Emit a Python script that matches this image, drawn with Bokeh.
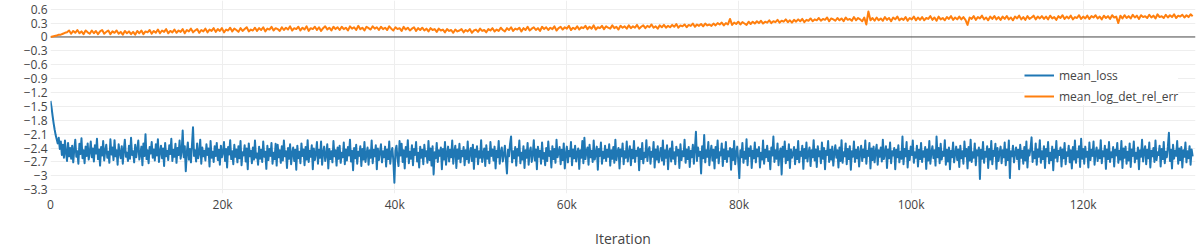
from bokeh.plotting import figure
from bokeh.models import Range1d, FixedTicker, Span, Legend, LegendItem
from bokeh.embed import file_html
from bokeh.resources import INLINE

# ---------------- data ----------------
loss_log_step = 120   # iterations between logged mean_loss points
err_log_step = 240    # iterations between logged mean_log_det_rel_err points

mean_loss = [
    -1.38, -1.52, -1.70, -1.86, -2.00, -2.12, -2.21, -2.30, -2.18, -2.42, -2.26, -2.55, -2.33, -2.61, -2.24, -2.50, -2.68, -2.29, -2.58, -2.40,
    -2.63, -2.35, -2.71, -2.44, -2.22, -2.59, -2.47, -2.74, -2.31, -2.53, -2.19, -2.62, -2.45, -2.73, -2.37, -2.57, -2.30, -2.65, -2.49, -2.26,
    -2.60, -2.41, -2.69, -2.34, -2.52, -2.20, -2.64, -2.43, -2.78, -2.38, -2.56, -2.25, -2.67, -2.46, -2.33, -2.61, -2.48, -2.72, -2.21, -2.54,
    -2.39, -2.66, -2.23, -2.58, -2.45, -2.76, -2.32, -2.51, -2.62, -2.36, -2.74, -2.44, -2.22, -2.59, -2.50, -2.68, -2.35, -2.63, -2.18, -2.55,
    -2.47, -2.71, -2.33, -2.60, -2.42, -2.24, -2.65, -2.53, -2.37, -2.77, -2.30, -2.57, -2.10, -2.64, -2.45, -2.73, -2.38, -2.52, -2.27, -2.61,
    -2.43, -2.67, -2.32, -2.56, -2.21, -2.70, -2.48, -2.35, -2.62, -2.41, -2.79, -2.29, -2.58, -2.46, -2.66, -2.34, -2.53, -2.20, -2.68, -2.44,
    -2.59, -2.31, -2.72, -2.40, -2.55, -2.24, -2.63, -2.47, -2.02, -2.60, -2.36, -2.90, -2.49, -2.28, -2.65, -2.42, -2.71, -2.33, -1.95, -2.57,
    -2.45, -2.69, -2.30, -2.62, -2.51, -2.22, -2.74, -2.39, -2.58, -2.46, -2.67, -2.32, -2.55, -2.41, -2.80, -2.25, -2.61, -2.48, -2.70, -2.36,
    -2.57, -2.29, -2.66, -2.44, -2.76, -2.35, -2.60, -2.50, -2.27, -2.68, -2.42, -2.82, -2.38, -2.54, -2.23, -2.64, -2.47, -2.75, -2.33, -2.59,
    -2.43, -2.71, -2.36, -2.62, -2.25, -2.77, -2.49, -2.56, -2.34, -2.69, -2.41, -2.86, -2.30, -2.58, -2.46, -2.73, -2.39, -2.65, -2.24, -2.61,
    -2.52, -2.76, -2.37, -2.63, -2.44, -2.70, -2.26, -2.59, -2.48, -2.85, -2.35, -2.66, -2.42, -2.57, -2.29, -2.74, -2.50, -2.64, -2.31, -2.78,
    -2.33, -2.60, -2.45, -2.72, -2.36, -2.67, -2.24, -2.58, -2.47, -2.83, -2.40, -2.63, -2.32, -2.75, -2.51, -2.39, -2.68, -2.44, -2.87, -2.35,
    -2.62, -2.48, -2.73, -2.30, -2.57, -2.43, -2.77, -2.38, -2.65, -2.23, -2.70, -2.46, -2.59, -2.34, -2.86, -2.41, -2.66, -2.52, -2.27, -2.74,
    -2.44, -2.61, -2.26, -2.76, -2.49, -2.37, -2.68, -2.55, -2.32, -2.84, -2.42, -2.64, -2.47, -2.71, -2.25, -2.58, -2.45, -2.78, -2.39, -2.63,
    -2.35, -2.72, -2.50, -2.60, -2.28, -2.75, -2.43, -2.67, -2.38, -2.56, -2.22, -2.69, -2.46, -2.88, -2.40, -2.62, -2.33, -2.74, -2.48, -2.57,
    -2.36, -2.79, -2.42, -2.65, -2.27, -2.70, -2.53, -2.39, -2.76, -2.45, -2.61, -2.24, -2.73, -2.44, -2.58, -2.34, -2.86, -2.41, -2.66, -2.49,
    -2.32, -2.71, -2.47, -2.60, -2.37, -2.80, -2.43, -2.64, -2.26, -2.74, -2.51, -2.40, -2.68, -3.15, -2.46, -2.35, -2.62, -2.79, -2.25, -2.56,
    -2.31, -2.70, -2.45, -2.84, -2.38, -2.59, -2.23, -2.73, -2.48, -2.63, -2.34, -2.77, -2.42, -2.55, -2.27, -2.69, -2.50, -2.82, -2.37, -2.61,
    -2.44, -2.75, -2.33, -2.58, -2.47, -2.72, -2.25, -2.66, -2.41, -2.78, -2.36, -2.97, -2.49, -2.62, -2.29, -2.70, -2.45, -2.57, -2.39, -2.86,
    -2.42, -2.65, -2.27, -2.76, -2.51, -2.37, -2.69, -2.44, -2.60, -2.24, -2.74, -2.48, -2.35, -2.83, -2.43, -2.63, -2.31, -2.71, -2.46, -2.58,
    -2.38, -2.77, -2.45, -2.64, -2.26, -2.72, -2.50, -2.40, -2.68, -2.33, -2.85, -2.44, -2.59, -2.36, -2.75, -2.47, -2.61, -2.23, -2.70, -2.52,
    -2.41, -2.79, -2.34, -2.63, -2.48, -2.73, -2.27, -2.57, -2.43, -2.67, -2.37, -2.84, -2.46, -2.60, -2.25, -2.74, -2.49, -2.39, -2.69, -2.55,
    -2.35, -2.66, -2.95, -2.44, -2.58, -2.31, -2.15, -2.71, -2.47, -2.62, -2.38, -2.78, -2.42, -2.56, -2.24, -2.73, -2.50, -2.65, -2.36, -2.83,
    -2.45, -2.61, -2.29, -2.76, -2.48, -2.39, -2.70, -2.54, -2.23, -2.67, -2.43, -2.86, -2.37, -2.59, -2.46, -2.74, -2.28, -2.63, -2.51, -2.77,
    -2.40, -2.68, -2.26, -2.57, -2.47, -2.82, -2.36, -2.64, -2.42, -2.72, -2.22, -2.60, -2.49, -2.38, -2.75, -2.44, -2.66, -2.30, -2.84, -2.53,
    -2.37, -2.71, -2.46, -2.58, -2.27, -2.77, -2.43, -2.62, -2.35, -2.69, -2.50, -2.41, -2.85, -2.45, -2.61, -2.25, -2.73, -2.18, -2.64, -2.48,
    -2.39, -2.76, -2.33, -2.60, -2.46, -2.70, -2.24, -2.65, -2.52, -2.37, -2.87, -2.42, -2.57, -2.28, -2.74, -2.48, -2.62, -2.35, -2.68, -2.44,
    -2.59, -2.32, -2.78, -2.45, -2.63, -2.38, -2.72, -2.22, -2.66, -2.49, -2.40, -2.84, -2.43, -2.58, -2.30, -2.75, -2.47, -2.61, -2.26, -2.69,
    -2.51, -2.36, -2.77, -2.44, -2.62, -2.25, -2.70, -2.46, -2.57, -2.39, -2.88, -2.42, -2.64, -2.29, -2.73, -2.50, -2.60, -2.23, -2.68, -2.45,
    -2.38, -2.74, -2.48, -2.59, -2.27, -2.82, -2.43, -2.65, -2.36, -2.71, -2.53, -2.40, -2.67, -2.24, -2.76, -2.45, -2.61, -2.34, -2.86, -2.47,
    -2.41, -2.69, -2.26, -2.63, -2.49, -2.75, -2.37, -2.56, -2.44, -2.83, -2.32, -2.66, -2.47, -2.58, -2.22, -2.72, -2.43, -2.64, -2.38, -2.81,
    -2.46, -2.60, -2.33, -2.74, -2.42, -2.05, -2.68, -2.39, -2.57, -2.48, -2.95, -2.36, -2.62, -2.12, -2.71, -2.45, -2.59, -2.27, -2.77, -2.50,
    -2.35, -2.67, -2.44, -2.84, -2.38, -2.61, -2.24, -2.73, -2.49, -2.56, -2.30, -2.79, -2.43, -2.64, -2.27, -2.70, -2.47, -2.58, -2.40, -2.87,
    -2.42, -2.66, -2.25, -2.75, -2.51, -2.37, -2.69, -3.05, -2.45, -2.60, -2.29, -2.72, -2.48, -2.63, -2.21, -2.77, -2.41, -2.57, -2.36, -2.83,
    -2.46, -2.62, -2.28, -2.71, -2.43, -2.58, -2.38, -2.82, -2.50, -2.65, -2.24, -2.74, -2.44, -2.60, -2.35, -2.68, -2.47, -2.86, -2.39, -2.56,
    -2.15, -2.70, -2.45, -2.63, -2.30, -2.77, -2.49, -2.41, -2.97, -2.37, -2.59, -2.26, -2.73, -2.46, -2.66, -2.32, -2.83, -2.43, -2.61, -2.52,
    -2.38, -2.75, -2.44, -2.64, -2.25, -2.71, -2.48, -2.57, -2.35, -2.85, -2.42, -2.62, -2.28, -2.69, -2.50, -2.39, -2.79, -2.45, -2.60, -2.23,
    -2.67, -2.43, -2.81, -2.36, -2.58, -2.47, -2.73, -2.28, -2.63, -2.40, -2.86, -2.46, -2.55, -2.25, -2.70, -2.44, -2.65, -2.37, -2.78, -2.51,
    -2.34, -2.61, -2.45, -2.82, -2.39, -2.68, -2.23, -2.72, -2.49, -2.58, -2.30, -2.75, -2.42, -2.64, -2.36, -2.87, -2.47, -2.59, -2.26, -2.70,
    -2.44, -2.62, -2.38, -2.80, -2.50, -2.35, -2.68, -2.43, -2.60, -2.24, -2.74, -2.46, -2.57, -2.29, -2.84, -2.41, -2.66, -2.37, -2.71, -2.48,
    -2.33, -2.76, -2.45, -2.59, -2.39, -2.69, -2.22, -2.64, -2.51, -2.36, -2.83, -2.43, -2.62, -2.28, -2.73, -2.47, -2.56, -2.40, -2.86, -2.44,
    -2.60, -2.34, -2.71, -2.48, -2.63, -2.15, -2.75, -2.42, -2.58, -2.27, -2.82, -2.46, -2.66, -2.37, -2.55, -2.24, -2.72, -2.49, -2.61, -2.35,
    -2.80, -2.44, -2.64, -2.29, -2.70, -2.47, -2.59, -2.38, -2.85, -2.43, -2.67, -2.25, -2.74, -2.50, -2.36, -2.62, -2.45, -2.78, -2.15, -2.60,
    -2.40, -2.73, -2.31, -2.65, -2.48, -2.57, -2.23, -2.76, -2.44, -2.69, -2.39, -2.86, -2.46, -2.60, -2.28, -2.71, -2.52, -2.37, -2.66, -2.43,
    -2.81, -2.35, -2.62, -2.47, -2.74, -2.26, -2.58, -2.42, -2.84, -2.38, -2.67, -2.22, -2.70, -2.49, -2.61, -2.30, -2.77, -2.45, -2.56, -2.39,
    -3.07, -2.44, -2.63, -2.27, -2.72, -2.48, -2.59, -2.36, -2.83, -2.42, -2.65, -2.25, -2.75, -2.46, -2.57, -2.31, -2.85, -2.40, -2.68, -2.50,
    -2.37, -2.73, -2.45, -2.60, -2.28, -2.77, -2.43, -2.66, -2.24, -3.05, -2.47, -2.58, -2.35, -2.71, -2.51, -2.39, -2.64, -2.44, -2.86, -2.33,
    -2.61, -2.46, -2.74, -2.38, -2.67, -2.26, -2.82, -2.45, -2.56, -2.41, -2.17, -2.70, -2.48, -2.62, -2.30, -2.76, -2.43, -2.59, -2.23, -2.72,
    -2.47, -2.64, -2.36, -2.83, -2.42, -2.58, -2.27, -2.73, -2.50, -2.66, -2.37, -2.88, -2.44, -2.61, -2.25, -2.69, -2.46, -2.55, -2.39, -2.80,
    -2.43, -2.62, -2.29, -2.75, -2.49, -2.57, -2.35, -2.71, -2.45, -2.84, -2.38, -2.65, -2.24, -2.72, -2.47, -2.60, -2.36, -2.81, -2.20, -2.63,
    -2.42, -2.74, -2.37, -2.59, -2.48, -2.82, -2.28, -2.66, -2.44, -2.57, -2.26, -2.76, -2.51, -2.39, -2.68, -2.45, -2.62, -2.23, -2.73, -2.47,
    -2.58, -2.35, -2.85, -2.43, -2.64, -2.27, -2.70, -2.49, -2.60, -2.38, -2.80, -2.44, -2.56, -2.29, -2.72, -2.46, -2.65, -2.25, -2.83, -2.41,
    -2.61, -2.37, -2.74, -2.48, -2.67, -2.30, -2.81, -2.43, -2.57, -2.26, -2.71, -2.50, -2.63, -2.39, -2.86, -2.45, -2.59, -2.22, -2.69, -2.47,
    -2.36, -2.75, -2.44, -2.62, -2.28, -2.82, -2.46, -2.58, -2.40, -2.70, -2.24, -2.66, -2.49, -2.55, -2.35, -2.80, -2.42, -2.64, -2.27, -2.73,
    -2.48, -2.60, -2.37, -2.07, -2.68, -2.44, -2.84, -2.33, -2.63, -2.46, -2.57, -2.25, -2.74, -2.41, -2.66, -2.38, -2.82, -2.45, -2.59, -2.28,
    -2.71, -2.47, -2.62, -2.36, -2.76, -2.43, -2.58,
]

mean_log_det_rel_err = [
    0.00, 0.01, 0.02, 0.03, 0.05, 0.05, 0.07, 0.09, 0.10, 0.14, 0.07, 0.13, 0.09, 0.15, 0.08, 0.12, 0.06, 0.14, 0.10, 0.07,
    0.14, 0.08, 0.13, 0.06, 0.12, 0.15, 0.07, 0.11, 0.14, 0.06, 0.12, 0.09, 0.14, 0.07, 0.11, 0.05, 0.13, 0.08, 0.12, 0.06,
    0.11, 0.05, 0.13, 0.08, 0.14, 0.06, 0.12, 0.10, 0.15, 0.07, 0.13, 0.09, 0.16, 0.08, 0.14, 0.11, 0.17, 0.08, 0.13, 0.10,
    0.16, 0.09, 0.14, 0.11, 0.17, 0.08, 0.15, 0.12, 0.18, 0.10, 0.14, 0.17, 0.09, 0.15, 0.12, 0.18, 0.10, 0.16, 0.13, 0.19,
    0.11, 0.17, 0.13, 0.19, 0.10, 0.16, 0.14, 0.20, 0.12, 0.18, 0.15, 0.11, 0.19, 0.13, 0.17, 0.21, 0.12, 0.16, 0.14, 0.20,
    0.13, 0.19, 0.15, 0.21, 0.12, 0.18, 0.16, 0.22, 0.14, 0.19, 0.17, 0.13, 0.21, 0.15, 0.20, 0.16, 0.23, 0.14, 0.19, 0.17,
    0.22, 0.14, 0.20, 0.16, 0.23, 0.13, 0.19, 0.17, 0.22, 0.15, 0.21, 0.13, 0.19, 0.23, 0.16, 0.20, 0.14, 0.22, 0.17, 0.21,
    0.15, 0.22, 0.17, 0.20, 0.14, 0.23, 0.18, 0.21, 0.15, 0.24, 0.17, 0.20, 0.14, 0.22, 0.19, 0.16, 0.23, 0.18, 0.21, 0.15,
    0.22, 0.17, 0.20, 0.15, 0.23, 0.18, 0.14, 0.21, 0.17, 0.19, 0.13, 0.22, 0.16, 0.20, 0.14, 0.18, 0.21, 0.13, 0.19, 0.15,
    0.20, 0.14, 0.18, 0.12, 0.19, 0.15, 0.17, 0.11, 0.18, 0.14, 0.16, 0.10, 0.17, 0.13, 0.15, 0.09, 0.16, 0.12, 0.14, 0.17,
    0.10, 0.15, 0.12, 0.17, 0.09, 0.14, 0.16, 0.11, 0.18, 0.13, 0.15, 0.10, 0.17, 0.14, 0.19, 0.12, 0.16, 0.13, 0.20, 0.15,
    0.12, 0.19, 0.15, 0.21, 0.13, 0.18, 0.16, 0.20, 0.12, 0.19, 0.15, 0.22, 0.14, 0.18, 0.21, 0.15, 0.19, 0.13, 0.22, 0.17,
    0.21, 0.15, 0.20, 0.17, 0.23, 0.14, 0.19, 0.22, 0.16, 0.21, 0.18, 0.24, 0.15, 0.20, 0.17, 0.23, 0.16, 0.21, 0.19, 0.24,
    0.17, 0.22, 0.18, 0.25, 0.16, 0.21, 0.19, 0.24, 0.17, 0.23, 0.20, 0.18, 0.25, 0.19, 0.22, 0.16, 0.24, 0.20, 0.23, 0.18,
    0.25, 0.19, 0.23, 0.20, 0.26, 0.18, 0.22, 0.25, 0.19, 0.24, 0.21, 0.27, 0.20, 0.23, 0.18, 0.25, 0.21, 0.26, 0.20, 0.24,
    0.21, 0.26, 0.22, 0.28, 0.20, 0.25, 0.23, 0.27, 0.21, 0.26, 0.24, 0.29, 0.22, 0.27, 0.24, 0.28, 0.23, 0.29, 0.25, 0.27,
    0.24, 0.29, 0.25, 0.30, 0.27, 0.31, 0.25, 0.30, 0.27, 0.39, 0.26, 0.31, 0.28, 0.33, 0.27, 0.32, 0.29, 0.26, 0.33, 0.28,
    0.33, 0.29, 0.34, 0.30, 0.35, 0.29, 0.33, 0.31, 0.36, 0.30, 0.34, 0.32, 0.37, 0.31, 0.35, 0.33, 0.38, 0.32, 0.36, 0.31,
    0.37, 0.33, 0.38, 0.34, 0.39, 0.32, 0.37, 0.35, 0.40, 0.34, 0.38, 0.36, 0.41, 0.35, 0.39, 0.37, 0.42, 0.34, 0.40, 0.38,
    0.35, 0.41, 0.36, 0.40, 0.34, 0.42, 0.37, 0.39, 0.35, 0.43, 0.36, 0.41, 0.38, 0.34, 0.42, 0.27, 0.55, 0.36, 0.41, 0.35,
    0.42, 0.36, 0.40, 0.35, 0.43, 0.37, 0.41, 0.34, 0.42, 0.38, 0.44, 0.36, 0.40, 0.37, 0.43, 0.35, 0.41, 0.38, 0.44, 0.36,
    0.42, 0.37, 0.43, 0.36, 0.41, 0.39, 0.45, 0.37, 0.42, 0.35, 0.44, 0.38, 0.41, 0.36, 0.43, 0.39, 0.45, 0.37, 0.42, 0.38,
    0.44, 0.38, 0.43, 0.37, 0.26, 0.42, 0.39, 0.45, 0.37, 0.43, 0.40, 0.46, 0.38, 0.42, 0.36, 0.44, 0.39, 0.45, 0.38, 0.43,
    0.37, 0.44, 0.39, 0.45, 0.38, 0.42, 0.36, 0.44, 0.40, 0.46, 0.38, 0.43, 0.37, 0.45, 0.39, 0.42, 0.46, 0.38, 0.44, 0.40,
    0.45, 0.39, 0.44, 0.38, 0.46, 0.40, 0.43, 0.37, 0.45, 0.41, 0.47, 0.39, 0.44, 0.40, 0.46, 0.38, 0.43, 0.41, 0.47, 0.39,
    0.44, 0.40, 0.46, 0.39, 0.45, 0.42, 0.47, 0.40, 0.44, 0.38, 0.46, 0.41, 0.45, 0.39, 0.47, 0.42, 0.44, 0.30, 0.46, 0.40,
    0.47, 0.41, 0.45, 0.40, 0.48, 0.42, 0.46, 0.39, 0.47, 0.43, 0.45, 0.41, 0.48, 0.42, 0.46, 0.40, 0.49, 0.43, 0.45, 0.41,
    0.48, 0.42, 0.47, 0.43, 0.49, 0.41, 0.46, 0.44, 0.48, 0.42, 0.47, 0.43, 0.49, 0.45,
]

series_names = ["mean_loss", "mean_log_det_rel_err"]
series_colors = ["#1f77b4", "#ff7f0e"]

x_ticks = [0, 20000, 40000, 60000, 80000, 100000, 120000]
x_tick_labels = ["0", "20k", "40k", "60k", "80k", "100k", "120k"]
y_ticks = [0.6, 0.3, 0, -0.3, -0.6, -0.9, -1.2, -1.5, -1.8, -2.1, -2.4, -2.7, -3, -3.3]
y_tick_labels = ["0.6", "0.3", "0", "\u22120.3", "\u22120.6", "\u22120.9", "\u22121.2", "\u22121.5",
                 "\u22121.8", "\u22122.1", "\u22122.4", "\u22122.7", "\u22123", "\u22123.3"]
x_title = "Iteration"

iter_loss = [i * loss_log_step for i in range(len(mean_loss))]
iter_err = [i * err_log_step for i in range(len(mean_log_det_rel_err))]

FONT = "Open Sans"
TXT = "#444444"

p = figure(width=1200, height=250, output_backend="svg", toolbar_location=None,
           x_range=Range1d(0, 133050), y_range=Range1d(-3.383, 0.788),
           min_border_left=50, min_border_right=5, min_border_top=0, min_border_bottom=50)
p.outline_line_color = None
p.background_fill_color = "white"
p.border_fill_color = "white"

# axes
p.xaxis.ticker = FixedTicker(ticks=x_ticks)
p.xaxis.major_label_overrides = {t: l for t, l in zip(x_ticks, x_tick_labels)}
p.yaxis.ticker = FixedTicker(ticks=y_ticks)
p.yaxis.major_label_overrides = {t: l for t, l in zip(y_ticks, y_tick_labels)}
for ax in (p.xaxis[0], p.yaxis[0]):
    ax.axis_line_color = None
    ax.major_tick_line_color = None
    ax.minor_tick_line_color = None
    ax.major_tick_out = 0
    ax.major_tick_in = 0
    ax.major_label_text_font = FONT
    ax.major_label_text_font_size = "12px"
    ax.major_label_text_color = TXT
p.yaxis.major_label_standoff = 3
p.xaxis.major_label_standoff = 2
p.xaxis.axis_label = x_title
p.xaxis.axis_label_text_font = FONT
p.xaxis.axis_label_text_font_size = "14px"
p.xaxis.axis_label_text_font_style = "normal"
p.xaxis.axis_label_text_color = TXT
p.xaxis.axis_label_standoff = 13

# grid
p.xgrid.ticker = FixedTicker(ticks=[t for t in x_ticks if t != 0])
p.ygrid.ticker = FixedTicker(ticks=[t for t in y_ticks if t != 0])
p.xgrid.grid_line_color = "#eeeeee"
p.ygrid.grid_line_color = "#eeeeee"
p.xgrid.grid_line_width = 1
p.ygrid.grid_line_width = 1

p.add_layout(Span(location=0, dimension="width", line_color=TXT, line_width=1, level="underlay"))

r1 = p.line(iter_loss, mean_loss, line_color=series_colors[0], line_width=2, line_join="round")
r2 = p.line(iter_err, mean_log_det_rel_err, line_color=series_colors[1], line_width=2, line_join="round")

legend = Legend(items=[LegendItem(label=series_names[0], renderers=[r1]),
                       LegendItem(label=series_names[1], renderers=[r2])],
                location=(974, 88))
legend.glyph_width = 30
legend.glyph_height = 18
legend.label_height = 18
legend.spacing = 3
legend.padding = 4
legend.margin = 0
legend.label_standoff = 5
legend.label_text_font = FONT
legend.label_text_font_size = "12px"
legend.label_text_color = TXT
legend.border_line_color = None
legend.background_fill_color = "white"
legend.background_fill_alpha = 1.0
p.add_layout(legend)

open("out.html", "w").write(file_html(p, INLINE))
